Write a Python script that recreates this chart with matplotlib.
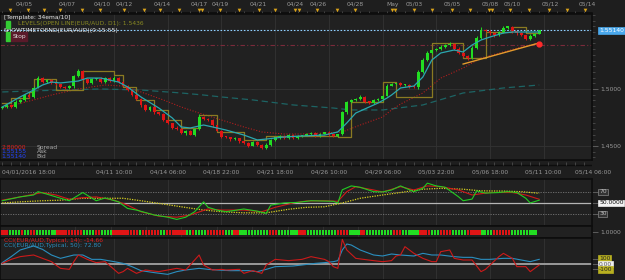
import numpy as np
import matplotlib.pyplot as plt
from matplotlib.transforms import blended_transform_factory

W, H = 625, 280
BG = '#1e1e1e'
PANEL = '#212121'
EDGE = '#0d0d0d'
GRID = '#333333'
TXT = '#9a9a9a'
FS = 4.3

# ---- price bars (EUR/AUD) ----
first_open = 1.4830
closes = [
    1.4842, 1.4862, 1.4840, 1.4890, 1.4905, 1.4948, 1.4932, 1.5012, 1.5096, 1.5062,
    1.5080, 1.5052, 1.5040, 1.5018, 1.5006, 1.5022, 1.5114, 1.5160, 1.5088, 1.5050,
    1.5085, 1.5092, 1.5060, 1.5098, 1.5072, 1.5100, 1.5065, 1.5030, 1.4995, 1.4950,
    1.4915, 1.4858, 1.4812, 1.4842, 1.4795, 1.4778, 1.4732, 1.4698, 1.4662, 1.4648,
    1.4610, 1.4632, 1.4600, 1.4646, 1.4752, 1.4736, 1.4725, 1.4680, 1.4635, 1.4582,
    1.4575, 1.4558, 1.4566, 1.4540, 1.4530, 1.4502, 1.4534, 1.4505, 1.4480, 1.4512,
    1.4555, 1.4575, 1.4590, 1.4566, 1.4594, 1.4572, 1.4586, 1.4590, 1.4604, 1.4612,
    1.4590, 1.4608, 1.4618, 1.4598, 1.4590, 1.4602, 1.4798, 1.4890, 1.4904, 1.4912,
    1.4928, 1.4890, 1.4880, 1.4900, 1.4910, 1.4942, 1.5030, 1.5044, 1.5050, 1.5034,
    1.5038, 1.5020, 1.5015, 1.5150, 1.5255, 1.5320, 1.5338, 1.5348, 1.5368, 1.5382,
    1.5398, 1.5355, 1.5320, 1.5290, 1.5268, 1.5362, 1.5448, 1.5520, 1.5508, 1.5488,
    1.5470, 1.5498, 1.5538, 1.5546, 1.5505, 1.5488, 1.5470, 1.5442, 1.5468, 1.5485,
    1.5514]
wick_up = [
    6, 10, 8, 12, 6, 9, 7, 10, 14, 8, 6, 9, 5, 7, 8, 12, 10, 18, 6, 8,
    9, 7, 10, 8, 6, 12, 5, 8, 6, 9, 7, 10, 6, 12, 8, 5, 9, 7, 6, 10,
    8, 12, 6, 10, 25, 8, 6, 9, 5, 7, 6, 8, 10, 5, 7, 9, 6, 8, 10, 12,
    9, 6, 8, 5, 7, 10, 6, 8, 12, 7, 9, 6, 8, 10, 5, 7, 12, 8, 6, 10,
    18, 9, 6, 8, 10, 7, 12, 9, 6, 8, 10, 7, 6, 15, 20, 12, 8, 10, 14, 9,
    12, 8, 10, 6, 9, 14, 18, 22, 10, 8, 9, 12, 16, 10, 8, 7, 9, 6, 12, 10,
    8]
wick_dn = [
    8, 6, 10, 7, 9, 6, 8, 12, 7, 10, 9, 6, 8, 10, 7, 6, 9, 8, 12, 10,
    7, 9, 6, 10, 8, 7, 9, 6, 10, 8, 10, 12, 8, 9, 14, 7, 10, 8, 12, 9,
    8, 10, 7, 9, 6, 12, 8, 10, 7, 9, 8, 12, 7, 10, 14, 8, 6, 9, 7, 8,
    9, 7, 10, 6, 8, 9, 7, 10, 6, 8, 7, 9, 6, 10, 8, 7, 6, 14, 9, 8,
    7, 10, 8, 9, 6, 12, 7, 8, 10, 9, 8, 10, 7, 12, 9, 8, 10, 7, 9, 10,
    8, 12, 10, 9, 14, 8, 10, 9, 7, 12, 10, 8, 9, 12, 14, 10, 8, 12, 9, 8,
    6]

# ---- overlays on price ----
ema_bars = [0, 4, 7, 9, 11, 13, 17, 19, 22, 26, 28, 31, 35, 38, 40, 42, 45, 47, 50, 54,
            57, 59, 63, 67, 72, 75, 77, 79, 82, 84, 86, 87, 89, 92, 94, 96, 98, 101, 103, 105,
            107, 109, 112, 114, 116, 120]
ema_vals = [1.4842, 1.4930, 1.4991, 1.5035, 1.5061, 1.5053, 1.5070, 1.5096, 1.5096, 1.5061,
            1.5018, 1.4930, 1.4833, 1.4746, 1.4667, 1.4658, 1.4684, 1.4667, 1.4640, 1.4596,
            1.4553, 1.4561, 1.4579, 1.4588, 1.4596, 1.4623, 1.4702, 1.4789, 1.4842, 1.4877,
            1.4921, 1.4947, 1.5009, 1.5026, 1.5105, 1.5254, 1.5316, 1.5342, 1.5325, 1.5386,
            1.5430, 1.5456, 1.5491, 1.5500, 1.5500, 1.5500]
slow_bars = [0, 7, 11, 13, 17, 20, 23, 27, 31, 36, 40, 44, 49, 54, 58, 63, 67, 72, 76, 80,
             85, 87, 89, 94, 98, 103, 107, 112, 116, 120]
slow_vals = [1.4833, 1.4904, 1.4947, 1.4965, 1.5000, 1.5018, 1.5035, 1.5026, 1.4974, 1.4904,
             1.4842, 1.4789, 1.4728, 1.4667, 1.4623, 1.4605, 1.4605, 1.4614, 1.4623, 1.4684,
             1.4754, 1.4816, 1.4868, 1.4965, 1.5096, 1.5184, 1.5272, 1.5325, 1.5368, 1.5404]
long_bars = [0, 13, 22, 31, 40, 45, 49, 56, 65, 74, 78, 85, 94, 103, 112, 120]
long_vals = [1.4974, 1.4991, 1.5000, 1.4991, 1.4965, 1.4947, 1.4930, 1.4904, 1.4860, 1.4833,
             1.4816, 1.4816, 1.4860, 1.4965, 1.5009, 1.5035]
stop_bars = [0, 2, 6, 7, 12, 18, 25, 27, 30, 34, 37, 40, 44, 48, 54, 59, 75, 78, 85, 88,
             96, 103, 108, 114, 117, 120]
stop_vals = [1.4877, 1.4921, 1.4974, 1.5088, 1.4991, 1.5158, 1.5123, 1.5018, 1.4904, 1.4816,
             1.4728, 1.4658, 1.4772, 1.4623, 1.4553, 1.4588, 1.4579, 1.4886, 1.5061, 1.4930,
             1.5404, 1.5272, 1.5500, 1.5544, 1.5491, 1.5491]
trend_bars = [103, 120]
trend_vals = [1.5219, 1.5404]
bid = 1.55140
open_line = 1.5386

# ---- RSI-type oscillator ----
osc_fast_bars = [0, 4, 7, 8, 10, 12, 15, 16, 18, 20, 21, 23, 26, 28, 30, 34, 37, 39, 41, 43,
                 45, 46, 48, 50, 54, 57, 59, 60, 63, 66, 69, 74, 75, 76, 78, 80, 83, 85, 87, 89,
                 92, 94, 95, 97, 99, 102, 103, 105, 106, 108, 111, 113, 115, 117, 118, 120]
osc_fast = [54, 61, 64.5, 70.5, 66, 61, 54, 59, 69, 59, 54, 59, 52, 40, 37, 28, 24, 20, 24, 34,
            52, 42, 37, 34, 39, 35, 31, 46, 50, 51, 54, 53, 50, 74, 81, 78.5, 70.5, 70, 73.6, 81,
            70.5, 76.6, 86, 81, 78.5, 61, 54, 57, 72, 68, 69, 70.5, 69, 58.5, 50, 55]
osc_mid_bars = [0, 4, 9, 12, 15, 18, 21, 25, 28, 31, 35, 39, 42, 46, 49, 54, 58, 61, 65, 68,
                72, 75, 77, 79, 83, 85, 89, 92, 95, 98, 102, 105, 109, 114, 117, 120]
osc_mid = [55, 61, 69, 64.5, 56.7, 59.6, 61, 55, 46, 34, 26, 24, 28, 39, 37, 37, 34, 42, 50, 53.6,
           54, 53, 70.5, 79.6, 73.6, 70, 79.6, 73.6, 81, 79.6, 73.6, 64.5, 69, 69, 64.5, 56.7]
osc_sig_bars = [0, 4, 9, 13, 18, 22, 27, 31, 36, 40, 45, 49, 54, 59, 64, 68, 72, 76, 80, 85,
                89, 94, 98, 103, 107, 112, 116, 120]
osc_sig = [50, 52, 54, 55, 58.5, 58.5, 58.5, 54, 48, 43, 37, 34, 32, 32, 38.5, 42, 43, 50, 58.5, 64.5,
           69, 75, 76.6, 75, 72, 71.6, 70.5, 67.6]

# ---- signal squares (G = up, R = down) ----
signal_row = list(
    "RRRGGGGRGGRRGGGGGGGRRRRRRRRRGGGGRRGGGGRRRRRRRRRGRRRRRRGGRRRRRRRGGRGGGGRRR"
    "RRRGGGRRGGGGGGGGGGRRRGGGGGGGRRRGGGGGGGGGGRRRRGGGGRRGGGGGGGGGRRRGGGGGGRRRR"
    "GGGRRRRGGGGGRRRRRGGGGRRRRRRGGGGGGGGG")

# ---- CCI ----
cci14_bars = [0, 2, 4, 7, 9, 11, 13, 15, 16, 17, 19, 21, 23, 26, 27, 28, 30, 32, 35, 37,
              39, 41, 43, 44, 45, 47, 49, 50, 53, 54, 56, 58, 59, 61, 64, 67, 69, 72, 73, 74,
              75, 76, 77, 79, 83, 85, 87, 88, 89, 90, 92, 94, 96, 97, 98, 100, 101, 103, 105, 107,
              108, 111, 112, 114, 115, 117, 118, 120]
cci14 = [13, 93, 147, 180, 113, 47, -87, -107, 47, 180, 93, 27, 47, -187, -153, -87, -187, -120, -153, -120,
         -87, -120, 80, 180, -20, -120, -107, -120, -107, -187, -133, -187, -20, 93, 67, 93, 147, 93, 47, -53,
         -87, 493, 280, 113, 67, 47, 67, 160, 180, 347, 213, 113, 47, 47, 247, 280, 113, 80, 80, -153,
         -107, 147, 213, 113, -53, -53, -153, -20]
cci50_bars = [0, 2, 4, 7, 9, 11, 13, 16, 18, 20, 22, 25, 27, 29, 31, 34, 37, 39, 41, 44,
              46, 48, 51, 55, 57, 59, 61, 65, 67, 70, 72, 74, 75, 76, 77, 78, 80, 83, 85, 87,
              89, 92, 94, 96, 98, 101, 103, 105, 107, 109, 112, 114, 116, 118, 120]
cci50 = [27, 147, 280, 360, 293, 180, 113, 180, 180, 93, 93, 47, 13, -53, -133, -173, -207, -153, -120, -87,
         -107, -120, -133, -133, -153, -107, -53, -40, -20, 13, 27, 47, 67, 280, 400, 380, 280, 180, 160, 200,
         180, 160, 213, 180, 180, 147, 133, 133, 93, 93, 113, 113, 80, 47, 93]

# ---- axis labels ----
top_label_bars = [4.9, 14.5, 22.3, 27.3, 35.8, 44, 48.7, 57.2, 65.5, 70.6, 78.9, 87.2, 92.1,
                  100.6, 109, 114, 122.5, 130.7]
top_labels = ['04/05', '04/07', '04/10', '04/12', '04/14', '04/17', '04/19', '04/21', '04/24',
              '04/26', '04/28', 'May', '05/03', '05/05', '05/08', '05/10', '05/12', '05/14']
session_bars = [1.8, 5.8, 9.4, 13, 17.9, 21.9, 27.3, 31.7, 35.3, 39.6, 44, 44.7, 48.7, 53,
                57.4, 61, 65.5, 66.4, 70.4, 74.9, 78.9, 87.2, 87.8, 92.1, 96.1, 100.6, 104.6,
                108.8, 109.5, 113.5, 117.8, 122.2, 126.3, 130.3]
time_bars = [0, 25, 37, 49, 61, 73, 85, 97, 109, 121, 132]
time_labels = ['04/01/2016 18:00', '04/11 10:00', '04/14 06:00', '04/18 22:00', '04/21 18:00',
               '04/26 10:00', '04/29 06:00', '05/03 22:00', '05/06 18:00', '05/11 10:00',
               '05/14 06:00']

XLIM = (-0.5, 131.8)
RIGHT = 592


def rect(top, bottom, left=0, right=RIGHT):
    return [left / W, 1 - bottom / H, (right - left) / W, (bottom - top) / H]


def panel(r):
    ax = fig.add_axes(r, facecolor=PANEL)
    ax.set_xlim(*XLIM)
    for s in ax.spines.values():
        s.set_color(EDGE)
        s.set_linewidth(1.2)
    ax.tick_params(axis='x', bottom=False, labelbottom=False)
    ax.yaxis.tick_right()
    ax.tick_params(axis='y', colors='#666666', labelcolor=TXT, labelsize=FS,
                   length=4, width=0.6, pad=2)
    ax.tick_params(axis='y', which='minor', length=2, width=0.5, colors='#555555')
    for b in time_bars[1:-1]:
        ax.axvline(b, color=GRID, lw=0.6, zorder=0)
    return ax


def right_box(ax, y, text, fc, tc, ec=None):
    tr = blended_transform_factory(ax.transAxes, ax.transData)
    ax.text(1.012, y, text, transform=tr, fontsize=FS, color=tc, va='center', ha='left',
            clip_on=False, bbox=dict(boxstyle='square,pad=0.15', fc=fc, ec=ec or fc, lw=0.5))


fig = plt.figure(figsize=(W / 100, H / 100), dpi=100, facecolor=BG)

# top date strip
top = fig.add_axes(rect(0, 14, right=W), facecolor=BG)
top.set_xlim(XLIM[0], XLIM[0] + (XLIM[1] - XLIM[0]) * W / RIGHT)
top.set_ylim(0, 1)
top.axis('off')
top.axhline(0.07, xmax=RIGHT / W, color=EDGE, lw=1.2)
top.vlines(np.arange(0, 132, 2), 0.07, 0.22, color='#555555', lw=0.5)
top.scatter(session_bars, [0.3] * len(session_bars), marker='v', s=7, color='#d9a21b', lw=0)
for b, t in zip(top_label_bars, top_labels):
    top.text(b, 0.68, t, fontsize=FS, color=TXT, ha='center', va='center')

# main price panel
ax = panel(rect(14, 160))
ax.set_ylim(1.4377, 1.5658)
ax.set_yticks([1.45, 1.50])
ax.set_yticklabels(['1.4500', '1.5000'])
ax.set_yticks(np.arange(1.440, 1.566, 0.005), minor=True)
for p in (1.45, 1.50):
    ax.axhline(p, color=GRID, lw=0.6, zorder=0)

opens = np.array([first_open] + closes[:-1])
cl = np.array(closes)
hi = np.maximum(opens, cl) + np.array(wick_up) * 1e-4
lo = np.minimum(opens, cl) - np.array(wick_dn) * 1e-4
x = np.arange(len(cl))
col = np.where(cl >= opens, '#22dd22', '#e01515')
ax.vlines(x, lo, hi, colors=col, lw=0.7, zorder=3)
ax.bar(x, np.maximum(np.abs(cl - opens), 0.0012), bottom=np.minimum(opens, cl), width=0.62,
       color=col, lw=0, zorder=3)

ax.plot(long_bars, long_vals, color='#1d6464', lw=0.9, ls=(0, (5, 3)), zorder=2)
ax.plot(slow_bars, slow_vals, color='#b01e1e', lw=0.8, ls=(0, (1, 1.5)), zorder=2)
ax.plot(stop_bars, stop_vals, color='#8a7a22', lw=0.9, drawstyle='steps-post', zorder=2)
ax.plot(ema_bars, ema_vals, color='#2aa8b0', lw=0.9, zorder=4)
ax.plot(trend_bars, trend_vals, color='#e49a2c', lw=1.0, zorder=4)
ax.plot(trend_bars[-1], 1.5395, 'o', color='#ff2a2a', ms=3.5, zorder=5)
ax.axhline(bid, color='#8fd0ff', lw=0.8, ls=(0, (1.5, 1.5)), zorder=1)
ax.axhline(open_line, color='#7a2a3a', lw=0.8, ls=(0, (4, 2, 1, 2)), zorder=1)
right_box(ax, bid, '1.55140', '#4aa8ec', '#ffffff')

ax.text(0.006, 0.979, '[Template: 34ema/10]', transform=ax.transAxes, fontsize=FS,
        color='#e8e8e8', va='center')
ax.text(0.03, 0.932, 'LEVELS(OPEN LINE(EUR/AUD, D1): 1.5436', transform=ax.transAxes,
        fontsize=FS, color='#8a8a22', va='center')
ax.text(0.006, 0.89, 'SHOWTIMETOEND(EUR/AUD)(0:15:55)', transform=ax.transAxes, fontsize=FS,
        color='#f0f0f0', va='center')
ax.add_patch(plt.Rectangle((0.010, 0.905), 0.007, 0.05, transform=ax.transAxes,
                           color='#33cc33', zorder=6))
ax.add_patch(plt.Rectangle((0.010, 0.815), 0.007, 0.06, transform=ax.transAxes,
                           color='#33cc33', zorder=6))
ax.add_patch(plt.Rectangle((0.019, 0.815), 0.027, 0.06, transform=ax.transAxes,
                           color='#5a1a2a', zorder=6))
ax.text(0.032, 0.845, 'Stop', transform=ax.transAxes, fontsize=FS, color='#dddddd',
        ha='center', va='center', zorder=7)
for yy, val, name, c in [(0.089, '2.80000', 'Spread', '#e02020'),
                         (0.055, '1.55155', 'Ask', '#2244ff'),
                         (0.021, '1.55140', 'Bid', '#2244ff')]:
    ax.text(0.003, yy, val, transform=ax.transAxes, fontsize=FS, color=c, va='center')
    ax.text(0.062, yy, name, transform=ax.transAxes, fontsize=FS, color='#aaaaaa', va='center')

# time strip
ts = fig.add_axes(rect(160, 179), facecolor=BG)
ts.set_xlim(*XLIM)
ts.set_ylim(0, 1)
ts.axis('off')
ts.axhline(0.74, color=EDGE, lw=1.0)
ts.vlines(np.arange(0, 132, 2), 0.74, 0.9, color='#555555', lw=0.5)
for b, t in zip(time_bars, time_labels):
    ts.text(b, 0.38, t, fontsize=FS, color=TXT, ha='left' if b == 0 else 'center',
            va='center', clip_on=False)

# oscillator panel
ro = panel(rect(179, 226))
ro.set_ylim(8, 93.6)
ro.set_yticks([30, 50, 70])
ro.set_yticklabels([])
ro.axhline(50, color='#b5b5b5', lw=0.9, zorder=1)
for lvl in (30, 70):
    ro.axhline(lvl, color='#777777', lw=0.6, ls=(0, (1.5, 1.5)), zorder=1)
ro.plot(osc_sig_bars, osc_sig, color='#d8d020', lw=0.9, ls=(0, (1, 1)), zorder=2)
ro.plot(osc_mid_bars, osc_mid, color='#d01818', lw=0.8, zorder=3)
ro.plot(osc_fast_bars, osc_fast, color='#22cc22', lw=0.8, zorder=4)
right_box(ro, 70, '70', '#333333', '#bbbbbb', '#888888')
right_box(ro, 50, '50.0000', '#f2f2f2', '#111111')
right_box(ro, 30, '30', '#333333', '#bbbbbb', '#888888')

# signal squares
sq = panel(rect(226, 238))
sq.set_xlim(-0.5, len(signal_row) * RIGHT / 537 - 0.5)
sq.set_ylim(0, 1)
sq.set_yticks([0.5])
sq.set_yticklabels(['1.0000'])
sq.bar(np.arange(len(signal_row)), 0.38, bottom=0.27, width=0.75, lw=0,
       color=['#22dd22' if s == 'G' else '#e01515' for s in signal_row])

# CCI panel
cc = panel(rect(238, 280))
cc.set_ylim(-320, 520)
cc.set_yticks([-100, 0, 100])
cc.set_yticklabels([])
cc.axhline(0, color='#9a9a9a', lw=1.4, zorder=1)
cc.plot(cci50_bars, cci50, color='#2a8fc0', lw=0.8, zorder=2)
cc.plot(cci14_bars, cci14, color='#cc1a1a', lw=0.8, zorder=3)
cc.text(0.006, 0.93, 'CCI(EUR/AUD,Typical, 14): -14.66', transform=cc.transAxes, fontsize=FS,
        color='#e02020', va='center')
cc.text(0.006, 0.81, 'CCI(EUR/AUD,Typical, 50): 72.80', transform=cc.transAxes, fontsize=FS,
        color='#2a8fc0', va='center')
right_box(cc, 110, '100', '#b8b020', '#222222')
right_box(cc, 0, '0.00', '#eeeeee', '#555555')
right_box(cc, -110, '-100', '#b8b020', '#222222')

fig.savefig('out.png', dpi=100, facecolor=BG)
